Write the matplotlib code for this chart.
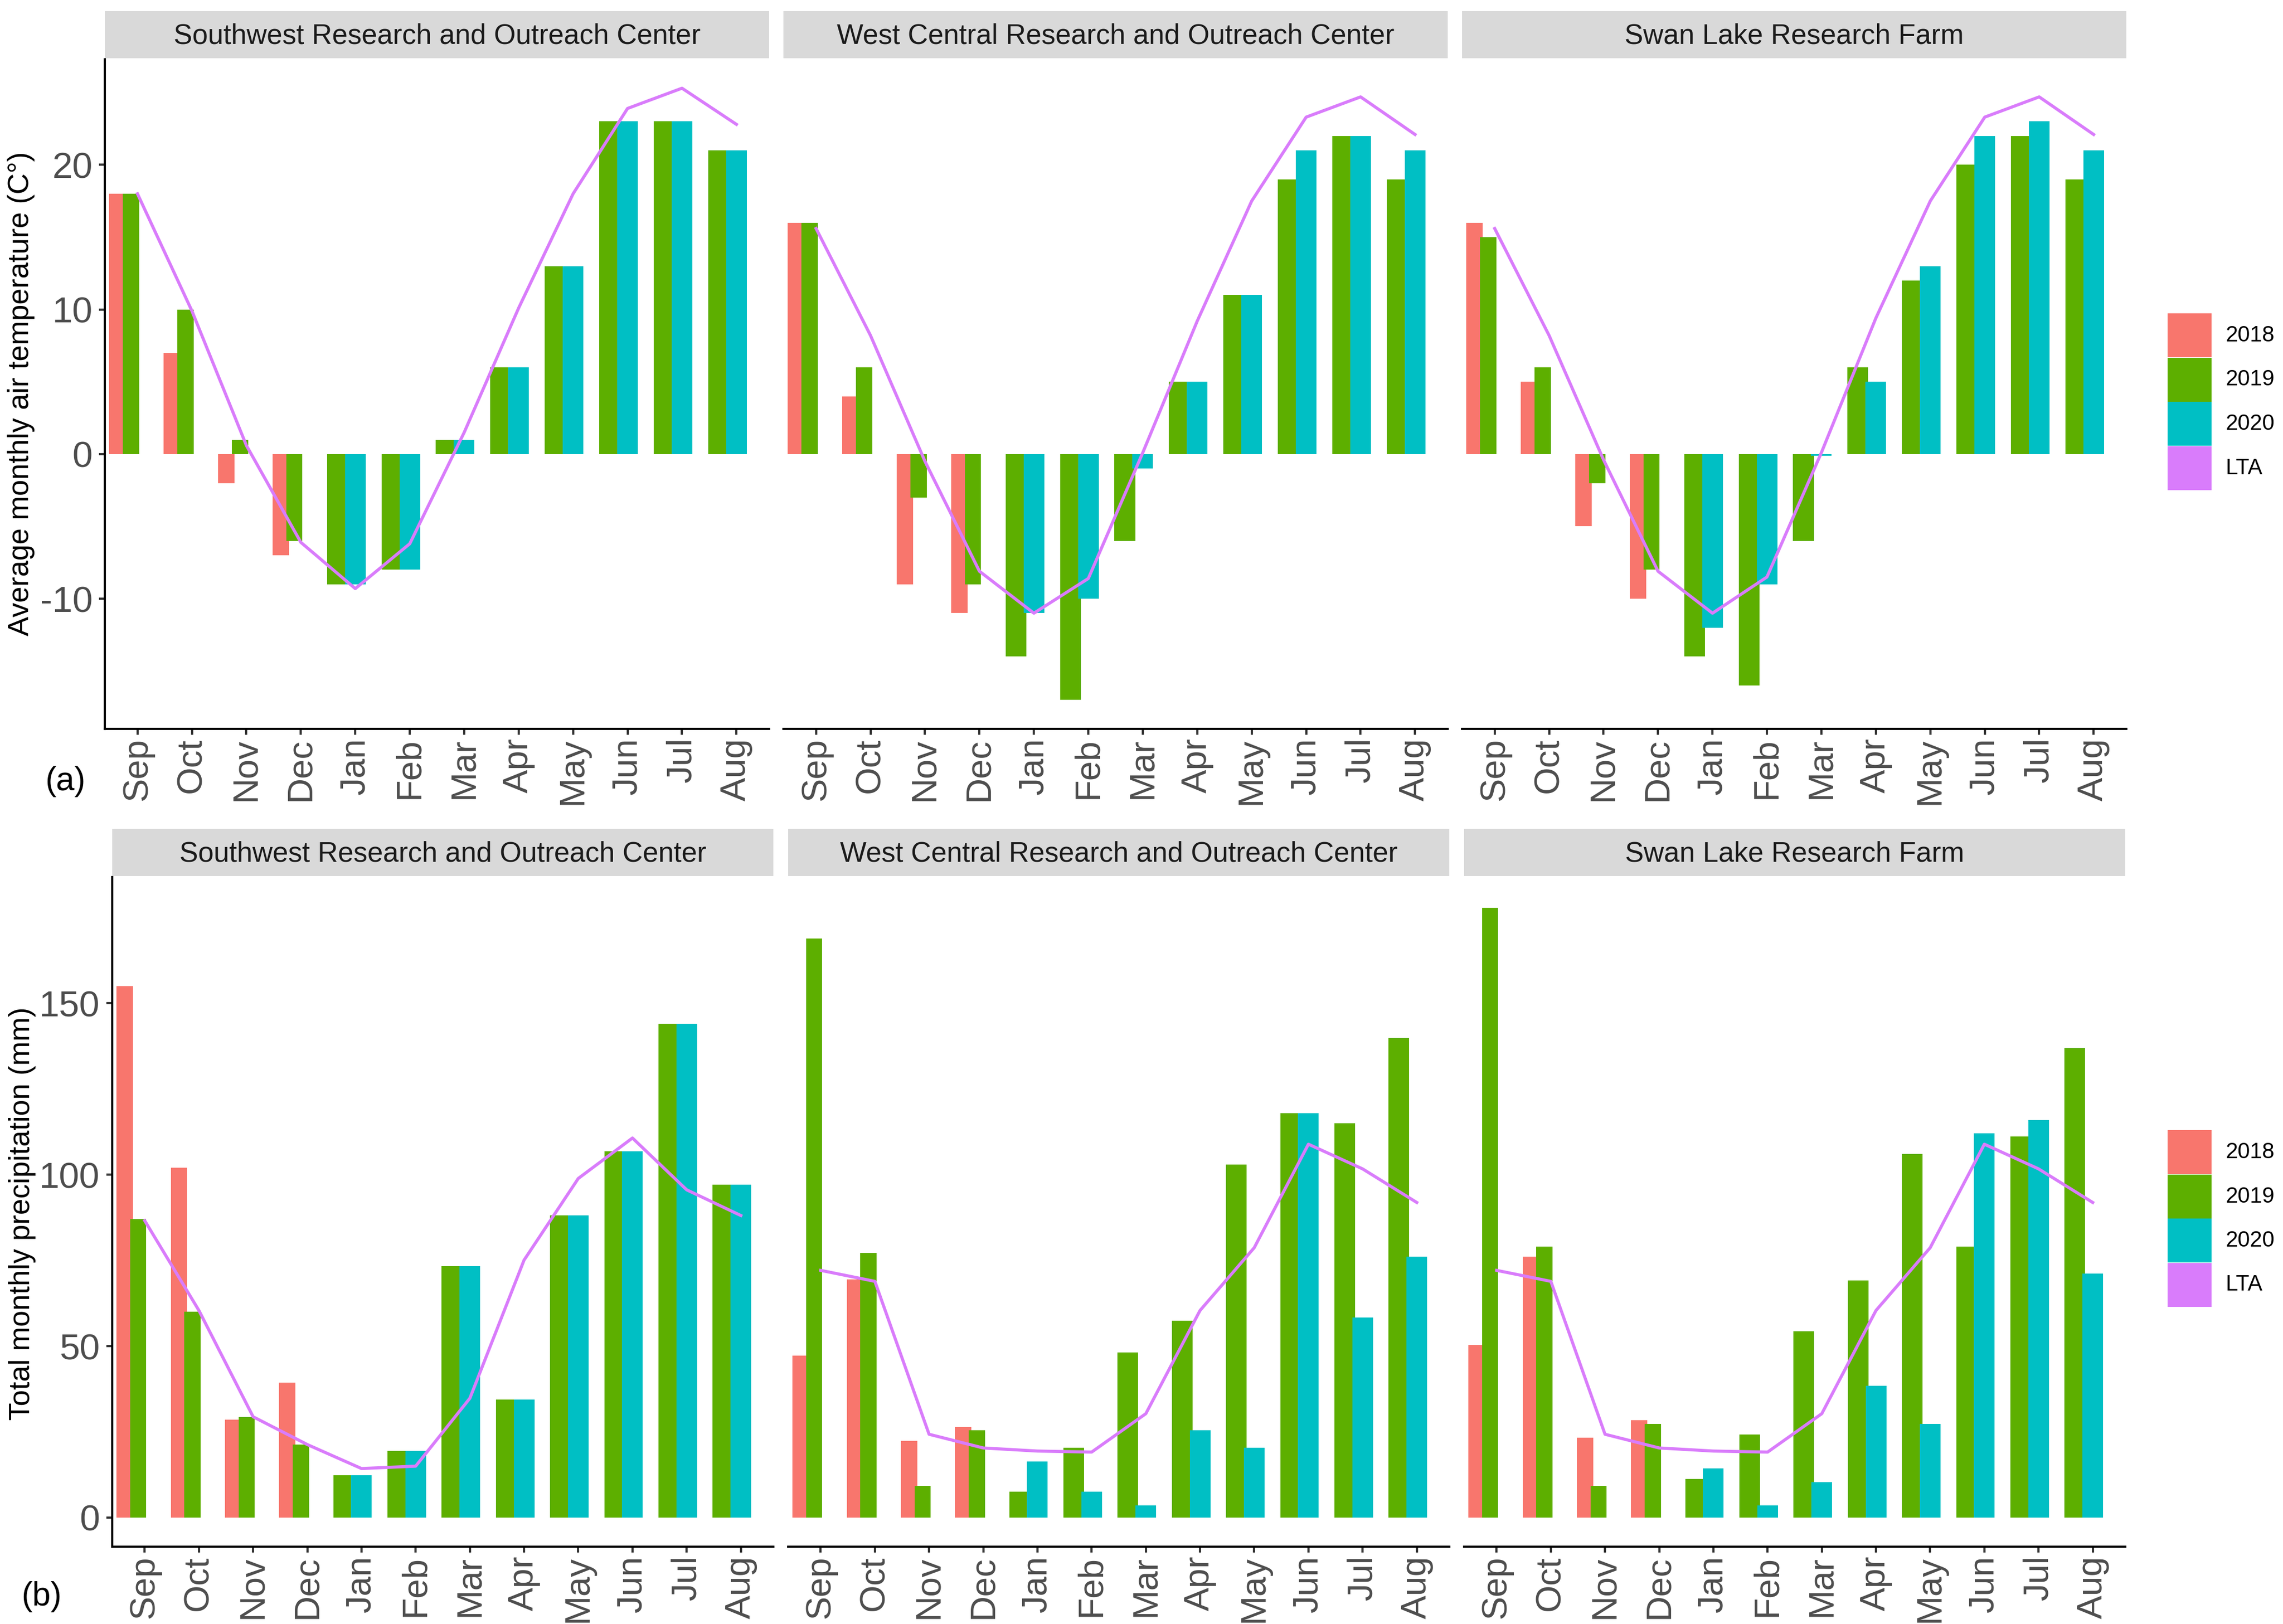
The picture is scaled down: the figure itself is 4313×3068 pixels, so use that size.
import numpy as np
import matplotlib
matplotlib.use("Agg")
import matplotlib.pyplot as plt
from matplotlib.patches import Rectangle

plt.rcParams['font.family'] = ['Liberation Sans', 'DejaVu Sans']

# data
months = ['Sep', 'Oct', 'Nov', 'Dec', 'Jan', 'Feb', 'Mar', 'Apr', 'May', 'Jun', 'Jul', 'Aug']
sites = ['Southwest Research and Outreach Center',
         'West Central Research and Outreach Center',
         'Swan Lake Research Farm']
years = ['2018', '2019', '2020', 'LTA']
n = np.nan

# average monthly air temperature (C)
sw_temp_2018 = [18, 7, -2, -7, n, n, n, n, n, n, n, n]
sw_temp_2019 = [18, 10, 1, -6, -9, -8, 1, 6, 13, 23, 23, 21]
sw_temp_2020 = [n, n, n, n, -9, -8, 1, 6, 13, 23, 23, 21]
sw_temp_lta = [18.0, 9.9, 0.6, -6.1, -9.3, -6.2, 1.5, 10.1, 18.0, 23.9, 25.3, 22.8]

wc_temp_2018 = [16, 4, -9, -11, n, n, n, n, n, n, n, n]
wc_temp_2019 = [16, 6, -3, -9, -14, -17, -6, 5, 11, 19, 22, 19]
wc_temp_2020 = [n, n, n, n, -11, -10, -1, 5, 11, 21, 22, 21]
wc_temp_lta = [15.6, 8.2, -0.5, -8.1, -11.0, -8.6, 0.1, 9.2, 17.5, 23.3, 24.7, 22.1]

sl_temp_2018 = [16, 5, -5, -10, n, n, n, n, n, n, n, n]
sl_temp_2019 = [15, 6, -2, -8, -14, -16, -6, 6, 12, 20, 22, 19]
sl_temp_2020 = [n, n, n, n, -12, -9, -0.1, 5, 13, 22, 23, 21]
sl_temp_lta = [15.6, 8.2, -0.4, -8.1, -11.0, -8.5, 0.1, 9.4, 17.5, 23.3, 24.7, 22.1]

# total monthly precipitation (mm)
sw_prec_2018 = [155, 102, 28.5, 39.3, n, n, n, n, n, n, n, n]
sw_prec_2019 = [87, 60, 29.4, 21.3, 12.3, 19.4, 73.3, 34.4, 88.1, 106.9, 144.1, 97.1]
sw_prec_2020 = [n, n, n, n, 12.3, 19.4, 73.3, 34.4, 88.1, 106.9, 144.1, 97.1]
sw_prec_lta = [86.6, 60.4, 29.4, 21.3, 14.3, 15.0, 34.8, 75.1, 98.9, 110.7, 95.6, 88.1]

wc_prec_2018 = [47.3, 69.4, 22.4, 26.4, n, n, n, n, n, n, n, n]
wc_prec_2019 = [168.9, 77.2, 9.3, 25.4, 7.5, 20.4, 48.2, 57.4, 103, 117.9, 115, 139.9]
wc_prec_2020 = [n, n, n, n, 16.4, 7.5, 3.6, 25.4, 20.4, 117.9, 58.3, 76.1]
wc_prec_lta = [72.1, 68.9, 24.3, 20.3, 19.4, 19.1, 30.3, 60.4, 78.7, 108.9, 101.7, 91.9]

sl_prec_2018 = [50.3, 76.1, 23.3, 28.4, n, n, n, n, n, n, n, n]
sl_prec_2019 = [177.9, 79.1, 9.3, 27.3, 11.3, 24.3, 54.4, 69.1, 106, 79.1, 111.1, 137]
sl_prec_2020 = [n, n, n, n, 14.4, 3.6, 10.4, 38.4, 27.3, 112, 115.9, 71.2]
sl_prec_lta = [72.1, 68.9, 24.3, 20.3, 19.4, 19.1, 30.3, 60.4, 78.7, 108.9, 101.7, 91.9]

temp = [[sw_temp_2018, sw_temp_2019, sw_temp_2020, sw_temp_lta],
        [wc_temp_2018, wc_temp_2019, wc_temp_2020, wc_temp_lta],
        [sl_temp_2018, sl_temp_2019, sl_temp_2020, sl_temp_lta]]
prec = [[sw_prec_2018, sw_prec_2019, sw_prec_2020, sw_prec_lta],
        [wc_prec_2018, wc_prec_2019, wc_prec_2020, wc_prec_lta],
        [sl_prec_2018, sl_prec_2019, sl_prec_2020, sl_prec_lta]]

colors = ['#F8766D', '#5DAF00', '#00BFC4', '#D97CFB']

# bar placement (first bar of a month drawn under the second one)
fall = np.arange(12) < 4
off = {'2018': np.where(fall, -0.37, 0), '2019': np.where(fall, -0.12, -0.33), '2020': np.where(fall, 0, 0.0)}
wid = {'2018': 0.30, '2019': np.where(fall, 0.30, 0.38), '2020': 0.38}

W, H = 4313, 3068
fig = plt.figure(figsize=(W / 300, H / 300), dpi=300)


def box(x0, y0, x1, y1):
    return [x0 / W, 1 - y1 / H, (x1 - x0) / W, (y1 - y0) / H]


def panel(x0, x1, sy0, sy1, py1, data, title, ylim, yticks, left):
    st = fig.add_axes(box(x0, sy0, x1, sy1))
    st.set_facecolor('#D9D9D9')
    st.set_xticks([]); st.set_yticks([])
    for s in st.spines.values():
        s.set_visible(False)
    st.text(0.5, 0.47, title, ha='center', va='center', fontsize=12.7, color='#1A1A1A', transform=st.transAxes)

    ax = fig.add_axes(box(x0, sy1 + 2, x1, py1))
    x = np.arange(12)
    for k, yr in enumerate(years[:3]):
        ax.bar(x + off[yr], data[k], width=wid[yr], color=colors[k], linewidth=0, zorder=2 + k)
    ax.plot(x, data[3], color=colors[3], lw=1.4, zorder=6)
    ax.set_xlim(-0.6, 11.6)
    ax.set_ylim(*ylim)
    ax.set_xticks(x)
    ax.set_xticklabels(months, rotation=90, fontsize=16, color='#4D4D4D')
    ax.spines['top'].set_visible(False)
    ax.spines['right'].set_visible(False)
    for s in ['left', 'bottom']:
        ax.spines[s].set_linewidth(1.0)
    ax.tick_params(axis='x', length=2.6, width=1.0, color='#333333', pad=1.5)
    if left:
        ax.set_yticks(yticks)
        ax.set_yticklabels([str(t) for t in yticks], fontsize=16.5, color='#4D4D4D')
        ax.tick_params(axis='y', length=2.6, width=1.0, color='#333333', pad=3)
    else:
        ax.spines['left'].set_visible(False)
        ax.set_yticks([])
    return ax


top_x = [(198, 1453), (1480, 2735), (2762, 4017)]
bot_x = [(212, 1461), (1489, 2738), (2766, 4015)]

for i in range(3):
    panel(top_x[i][0], top_x[i][1], 21, 110, 1377, temp[i], sites[i], (-19.0, 27.3), [-10, 0, 10, 20], i == 0)
    panel(bot_x[i][0], bot_x[i][1], 1566, 1655, 2922, prec[i], sites[i], (-8.5, 186.8), [0, 50, 100, 150], i == 0)

fig.text(40 / W, 1 - 744 / H, 'Average monthly air temperature (C\u00b0)', rotation=90,
         ha='center', va='center', fontsize=13.2, color='black')
fig.text(42 / W, 1 - 2293 / H, 'Total monthly precipitation (mm)', rotation=90,
         ha='center', va='center', fontsize=13.2, color='black')
fig.text(123 / W, 1 - 1477 / H, '(a)', ha='center', va='center', fontsize=15)
fig.text(78 / W, 1 - 3017 / H, '(b)', ha='center', va='center', fontsize=15)

# legends
for ytop in [592, 2135]:
    for k, lab in enumerate(years):
        y0 = ytop + k * 83.5
        fig.patches.append(Rectangle((4095 / W, 1 - (y0 + 83) / H), 83 / W, 83 / H,
                                     transform=fig.transFigure, facecolor=colors[k], edgecolor='none'))
        fig.text(4205 / W, 1 - (y0 + 42) / H, lab, ha='left', va='center', fontsize=10)

fig.savefig('out.png', dpi=300)
